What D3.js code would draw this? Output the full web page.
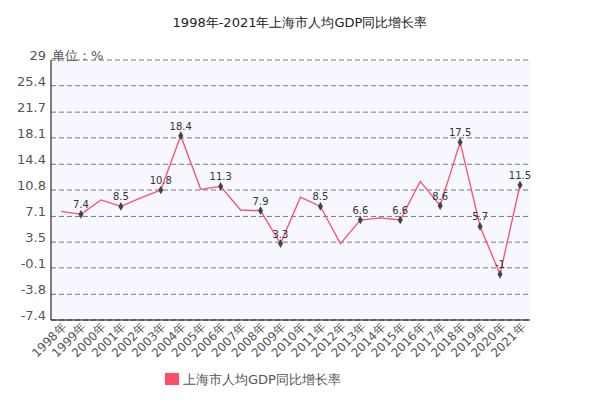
<!DOCTYPE html><html><head><meta charset="utf-8"><script src="https://cdn.jsdelivr.net/npm/d3@7"></script>
<style>body{margin:0;background:#fff}text{font-family:"DejaVu Sans",sans-serif}</style></head><body><svg id="c" width="610" height="406"></svg>
<script>
const years=["1998年","1999年","2000年","2001年","2002年","2003年","2004年","2005年","2006年","2007年","2008年","2009年","2010年","2011年","2012年","2013年","2014年","2015年","2016年","2017年","2018年","2019年","2020年","2021年"];
const values=[7.8,7.4,9.4,8.5,9.7,10.8,18.4,10.9,11.3,8.0,7.9,3.3,9.8,8.5,3.3,6.6,6.9,6.6,12.0,8.6,17.5,5.7,-1,11.5];
const labeled=[0,1,0,1,0,1,1,0,1,0,1,1,0,1,0,1,0,1,0,1,1,1,1,1];
const ticks=[29,25.4,21.7,18.1,14.4,10.8,7.1,3.5,-0.1,-3.8,-7.4];
const svg=d3.select("#c");
const L=51,R=530,T=60,B=320;
const x=d3.scalePoint().domain(years).range([61,520]);
const y=d3.scaleLinear().domain([-7.4,29]).range([B,T]);
svg.append("rect").attr("x",L).attr("y",T).attr("width",R-L).attr("height",B-T).attr("fill","#f7f8ff");
svg.append("g").selectAll("line").data(ticks).join("line").attr("x1",L).attr("x2",R).attr("y1",d=>y(d)).attr("y2",d=>y(d)).attr("stroke","#777").attr("stroke-dasharray","5,3");
svg.append("g").selectAll("text").data(ticks).join("text").attr("x",46).attr("y",d=>y(d)).attr("text-anchor","end").attr("font-size",13).attr("fill","#555").text(d=>d);
svg.append("line").attr("x1",L).attr("x2",L).attr("y1",T).attr("y2",B).attr("stroke","#000");
svg.append("line").attr("x1",L).attr("x2",R).attr("y1",B).attr("y2",B).attr("stroke","#000");
svg.append("text").attr("x",52).attr("y",60).attr("font-size",13).attr("fill","#555").text("单位：%");
svg.append("text").attr("x",300).attr("y",27).attr("text-anchor","middle").attr("font-size",13).attr("fill","#222").text("1998年-2021年上海市人均GDP同比增长率");
svg.append("g").selectAll("text").data(years).join("text").attr("transform",d=>`translate(${x(d)+6},${B+8}) rotate(-45)`).attr("text-anchor","end").attr("font-size",12).attr("fill","#555").text(d=>d);
svg.append("path").datum(values).attr("fill","none").attr("stroke","#ff4d6a").attr("stroke-width",1.3).attr("d",d3.line().x((d,i)=>x(years[i])).y(d=>y(d)));
const lab=values.map((v,i)=>({v,i})).filter(d=>labeled[d.i]);
svg.append("g").selectAll("path").data(lab).join("path").attr("transform",d=>`translate(${x(years[d.i])},${y(d.v)})`).attr("d",d3.symbol(d3.symbolDiamond,22)()).attr("fill","#444");
svg.append("g").selectAll("text").data(lab).join("text").attr("x",d=>x(years[d.i])).attr("y",d=>y(d.v)-6).attr("text-anchor","middle").attr("font-size",10).attr("fill","#333").text(d=>d.v);
svg.append("rect").attr("x",165).attr("y",373).attr("width",14).attr("height",12).attr("fill","#ff4d6a");
svg.append("text").attr("x",183).attr("y",384).attr("font-size",13).attr("fill","#555").text("上海市人均GDP同比增长率");
</script></body></html>
